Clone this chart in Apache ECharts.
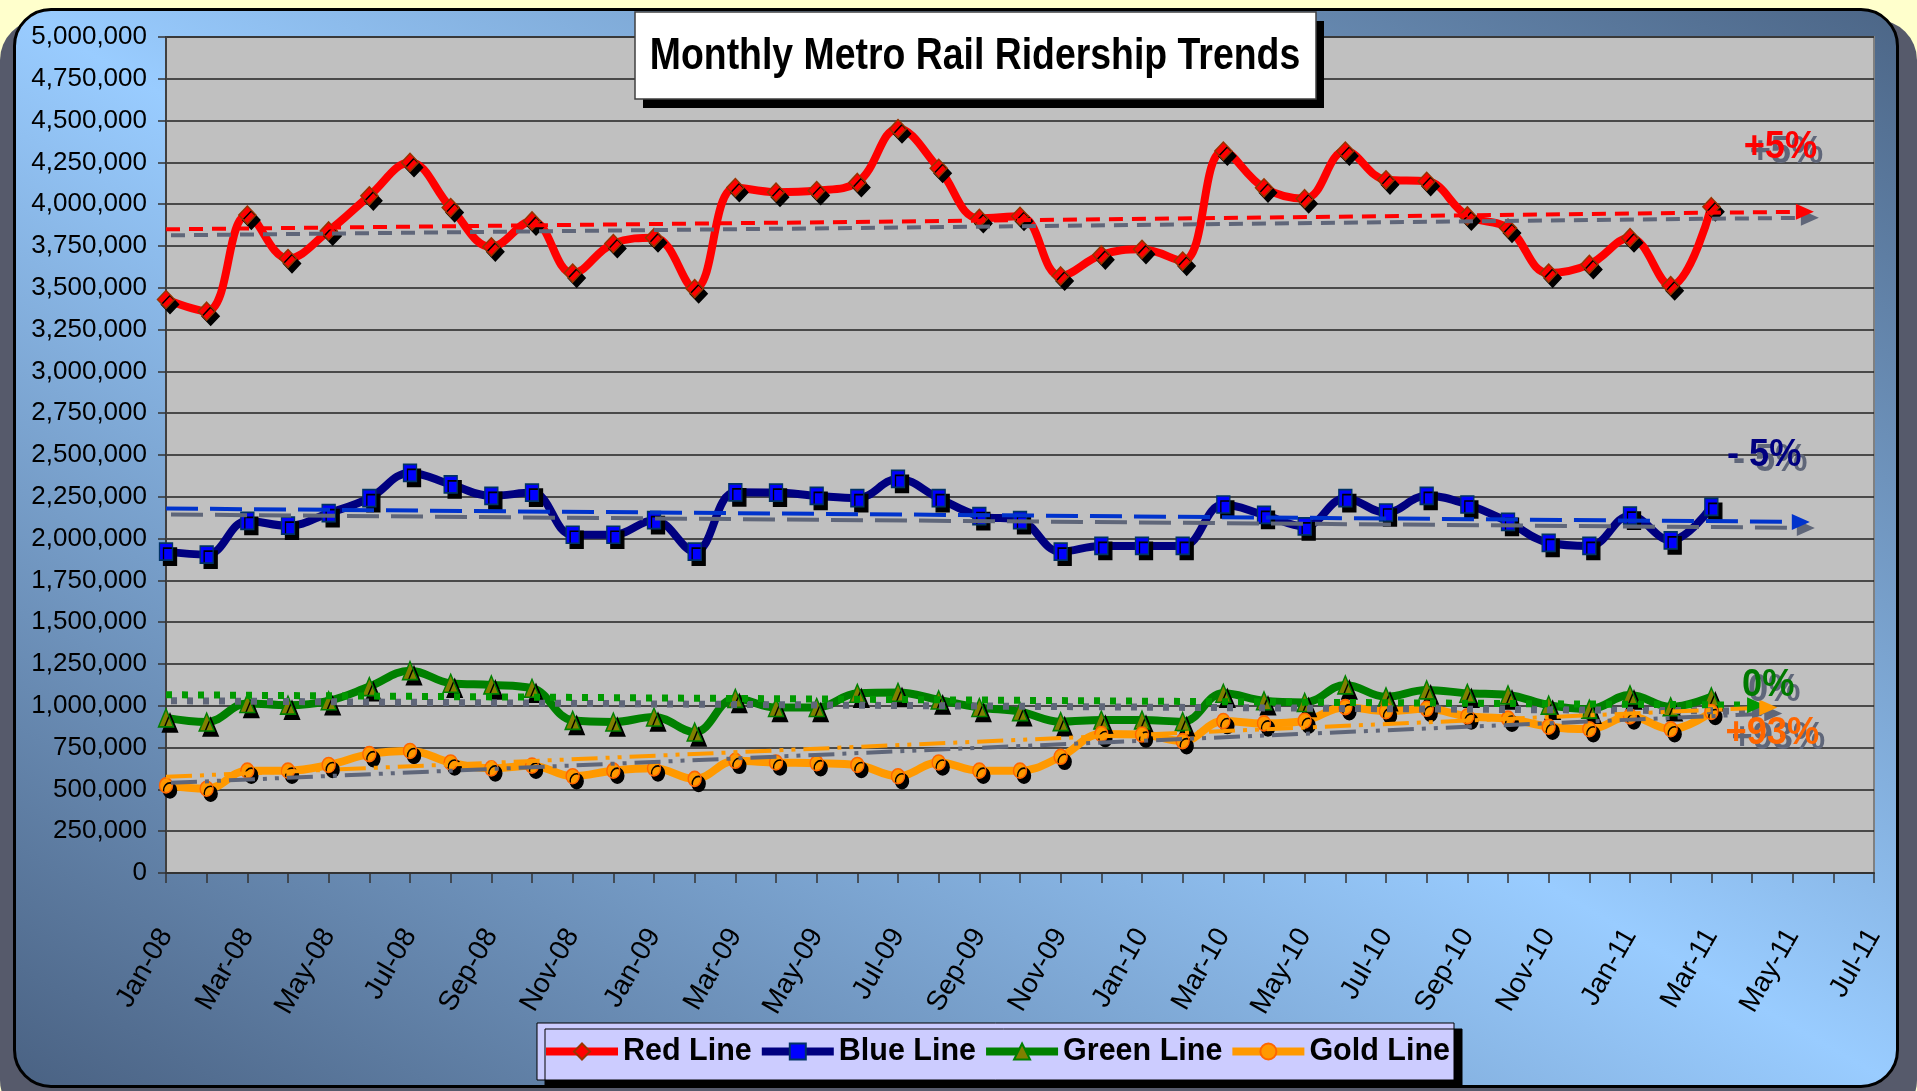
<!DOCTYPE html>
<html>
<head>
<meta charset="utf-8">
<title>Monthly Metro Rail Ridership Trends</title>
<script src="https://cdn.jsdelivr.net/npm/echarts@6.0.0/dist/echarts.min.js"></script>
<style>
  html, body { margin: 0; padding: 0; }
  body { width: 1917px; height: 1091px; background: #ffffcc; position: relative; overflow: hidden; }
  #shadow { position: absolute; left: 0; top: 20px; width: 1917px; height: 1100px; border-radius: 40px; background: #565a6b; }
  #frame { position: absolute; left: 13px; top: 8px; width: 1886px; height: 1080px; box-sizing: border-box;
           border: 3px solid #000; border-radius: 38px;
           background: linear-gradient(to top right, #4a6283 0%, #99ccff 50%, #4c6687 100%); }
  #main { position: absolute; left: 0; top: 0; width: 1917px; height: 1091px; }
</style>
</head>
<body>
<div id="shadow"></div>
<div id="frame"></div>
<div id="main"></div>
<script>
// x axis: one tick per month from Jan-08 (0) to Jul-11 (42), labels every 2 months
var tickLabels = ['Jan-08', 'Mar-08', 'May-08', 'Jul-08', 'Sep-08', 'Nov-08',
    'Jan-09', 'Mar-09', 'May-09', 'Jul-09', 'Sep-09', 'Nov-09',
    'Jan-10', 'Mar-10', 'May-10', 'Jul-10', 'Sep-10', 'Nov-10',
    'Jan-11', 'Mar-11', 'May-11', 'Jul-11'];

// monthly boardings, Jan-08 .. Mar-11
var redLine = [3430000, 3360000, 3935000, 3675000, 3840000, 4050000, 4250000, 3980000, 3745000, 3900000,
    3588000, 3765000, 3800000, 3495000, 4100000, 4072000, 4082000, 4130000, 4452000, 4215000,
    3915000, 3928000, 3571000, 3697000, 3730000, 3660000, 4318000, 4098000, 4033000, 4318000,
    4146000, 4137000, 3930000, 3857000, 3588000, 3640000, 3800000, 3513000, 3985000];
var blueLine = [1922000, 1904000, 2106000, 2077000, 2152000, 2242000, 2393000, 2324000, 2256000, 2275000,
    2023000, 2023000, 2110000, 1922000, 2277000, 2275000, 2256000, 2242000, 2357000, 2242000,
    2135000, 2110000, 1922000, 1956000, 1956000, 1956000, 2204000, 2142000, 2073000, 2242000,
    2156000, 2256000, 2204000, 2100000, 1975000, 1956000, 2137000, 1990000, 2190000];
var greenLine = [928000, 903000, 1014000, 1004000, 1030000, 1115000, 1210000, 1135000, 1125000, 1105000,
    913000, 903000, 933000, 843000, 1044000, 990000, 990000, 1075000, 1080000, 1035000,
    990000, 965000, 905000, 915000, 915000, 905000, 1075000, 1030000, 1020000, 1125000,
    1054000, 1095000, 1075000, 1065000, 1004000, 980000, 1065000, 994000, 1054000];
var goldLine = [524000, 504000, 612000, 612000, 646000, 711000, 730000, 661000, 626000, 642000,
    579000, 612000, 626000, 563000, 671000, 661000, 657000, 646000, 579000, 661000,
    612000, 612000, 695000, 831000, 828000, 789000, 909000, 895000, 911000, 992000,
    968000, 982000, 937000, 923000, 875000, 860000, 937000, 860000, 963000];

// linear trend lines: [start, end] values and the months they run between
var redTrend = [3850000, 3955000];
var blueTrend = [2180000, 2100000];
var greenTrend = [1066000, 1004000];
var goldTrend = [575000, 990000];
var redTrendMonths = [0, 40.3];
var blueTrendMonths = [0, 40.2];
var greenTrendMonths = [0, 39.1];
var goldTrendMonths = [0, 39.4];

// change notes next to the trend arrows
var changeText = ['+5%', '- 5%', '0%', '+93%'];
var changeAt = [[39.7, 4340000], [39.3, 2500000], [39.4, 1125000], [39.5, 833000]];

var sans = "'Liberation Sans', Arial, sans-serif";
var shadowGrey = '#5f6679';

function points(values) {
    return values.map(function (v, i) { return [i, v]; });
}

function lineSeries(name, values, lineColor, symbol, size, fill, border) {
    return {
        name: name,
        type: 'line',
        smooth: 0.4,
        data: points(values),
        symbol: symbol,
        symbolSize: size,
        showAllSymbol: true,
        lineStyle: { color: lineColor, width: 8 },
        itemStyle: {
            color: fill, borderColor: border, borderWidth: 1.5,
            shadowColor: '#000', shadowBlur: 0, shadowOffsetX: 4, shadowOffsetY: 5
        },
        emphasis: { disabled: true },
        z: 2
    };
}

function trendSeries(color, months, values, dash, width) {
    return {
        type: 'line',
        silent: true,
        symbol: 'none',
        data: [
            [months[0], values[0]],
            { value: [months[1], values[1]], symbol: 'triangle', symbolSize: [16, 18], symbolRotate: -90 }
        ],
        lineStyle: {
            color: color, width: width, type: dash, cap: 'butt',
            shadowColor: shadowGrey, shadowBlur: 0, shadowOffsetX: 5, shadowOffsetY: 6
        },
        itemStyle: { color: color, shadowColor: shadowGrey, shadowBlur: 0, shadowOffsetX: 5, shadowOffsetY: 6 },
        emphasis: { disabled: true },
        z: 3
    };
}

var chart = echarts.init(document.getElementById('main'), null, { renderer: 'canvas' });

var option = {
    animation: false,
    grid: {
        left: 166, right: 43, top: 37, bottom: 218,
        show: true, backgroundColor: '#c0c0c0', borderColor: '#808080', borderWidth: 2
    },
    legend: {
        data: ['Red Line', 'Blue Line', 'Green Line', 'Gold Line'],
        left: 537, top: 1023,
        padding: [13, 4, 13, 5],
        itemGap: 6, itemWidth: 72, itemHeight: 20,
        backgroundColor: '#ccccff', borderColor: '#000', borderWidth: 1,
        shadowColor: '#000', shadowBlur: 0, shadowOffsetX: 8, shadowOffsetY: 6,
        selectedMode: false,
        lineStyle: { width: 8 },
        itemStyle: { shadowColor: 'rgba(0,0,0,0)', shadowOffsetX: 0, shadowOffsetY: 0 },
        textStyle: { fontFamily: sans, fontWeight: 'bold', fontSize: 30.5, color: '#000' }
    },
    xAxis: {
        type: 'value', min: 0, max: 42, interval: 1,
        axisLine: { lineStyle: { color: '#333', width: 2 } },
        axisTick: { length: 10, lineStyle: { color: '#333', width: 1.5 } },
        splitLine: { show: false },
        axisLabel: {
            rotate: 60, margin: 58, fontFamily: sans, fontSize: 28, color: '#000',
            formatter: function (v) { return v % 2 === 0 ? tickLabels[v / 2] : ''; }
        }
    },
    yAxis: {
        type: 'value', min: 0, max: 5000000, interval: 250000,
        axisLine: { show: true, lineStyle: { color: '#404040', width: 2 } },
        axisTick: { show: true, length: 8, lineStyle: { color: '#333', width: 1.5 } },
        splitLine: { lineStyle: { color: '#222', width: 1.5 } },
        axisLabel: {
            margin: 19, fontFamily: sans, fontSize: 26, color: '#000',
            formatter: function (v) { return v.toLocaleString('en-US'); }
        }
    },
    series: [
        lineSeries('Red Line', redLine, '#ff0000', 'diamond', [17, 18], '#ff0000', '#993300'),
        lineSeries('Blue Line', blueLine, '#000080', 'rect', [13, 17], '#0000ff', '#003366'),
        lineSeries('Green Line', greenLine, '#008000', 'triangle', [15, 18], '#808000', '#008000'),
        lineSeries('Gold Line', goldLine, '#ff9900', 'circle', [13, 15], '#ff9900', '#ff6600'),
        trendSeries('#ff0000', redTrendMonths, redTrend, [14, 9], 4),
        trendSeries('#0033cc', blueTrendMonths, blueTrend, [32, 12], 4),
        trendSeries('#009900', greenTrendMonths, greenTrend, [6, 10], 7),
        trendSeries('#ff9900', goldTrendMonths, goldTrend, [26, 8, 4, 8, 4, 8], 4)
    ],
    graphic: [
        { type: 'rect', z: 10, shape: { x: 643, y: 21, width: 681, height: 87 }, style: { fill: '#000' } },
        { type: 'rect', z: 10, shape: { x: 635, y: 12, width: 681, height: 87 },
          style: { fill: '#fff', stroke: '#404040', lineWidth: 1.5 } },
        // narrow bold title: regular bold face squeezed horizontally
        { type: 'text', z: 11, x: 975, y: 57, scaleX: 0.85,
          style: { text: 'Monthly Metro Rail Ridership Trends', fill: '#000',
                   font: 'bold 44px ' + sans, align: 'center', verticalAlign: 'middle' } }
    ]
};

chart.setOption(option);

// change notes, placed in data space next to the trend arrows
var noteColors = ['#ff0000', '#000080', '#007a00', '#ff6600'];
var notes = [];
changeText.forEach(function (t, i) {
    var p = chart.convertToPixel({ gridIndex: 0 }, changeAt[i]);
    notes.push({ type: 'text', z: 11, x: p[0] + 6, y: p[1] + 5, scaleX: 0.93,
        style: { text: t, fill: shadowGrey, font: 'bold 39px ' + sans, align: 'center', verticalAlign: 'middle' } });
    notes.push({ type: 'text', z: 12, x: p[0], y: p[1], scaleX: 0.93,
        style: { text: t, fill: noteColors[i], font: 'bold 39px ' + sans, align: 'center', verticalAlign: 'middle' } });
});
chart.setOption({ graphic: option.graphic.concat(notes) });
</script>
</body>
</html>
